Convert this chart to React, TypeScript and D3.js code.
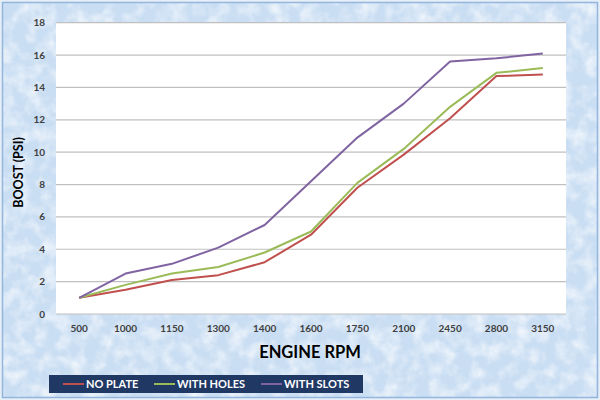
import * as d3 from 'd3';
import { useEffect, useRef } from 'react';

const rpm = ['500', '1000', '1150', '1300', '1400', '1600', '1750', '2100', '2450', '2800', '3150'];
const noPlate = [1, 1.5, 2.1, 2.4, 3.2, 4.9, 7.8, 9.85, 12.1, 14.7, 14.8];
const withHoles = [1, 1.8, 2.5, 2.9, 3.8, 5.1, 8.1, 10.2, 12.8, 14.9, 15.2];
const withSlots = [1, 2.5, 3.1, 4.1, 5.5, 8.2, 10.9, 13, 15.6, 15.8, 16.1];
const yTicks = [0, 2, 4, 6, 8, 10, 12, 14, 16, 18];

const series = [
  { name: 'NO PLATE', values: noPlate, color: '#c0504d' },
  { name: 'WITH HOLES', values: withHoles, color: '#9bbb59' },
  { name: 'WITH SLOTS', values: withSlots, color: '#8064a2' },
];

export default function App() {
  const ref = useRef<SVGSVGElement | null>(null);

  useEffect(() => {
    if (!ref.current) return;
    const W = 600;
    const H = 400;
    const plot = { left: 56, right: 566, top: 22.7, bottom: 314 };
    const font = 'Lato, "Open Sans", sans-serif';

    const svg = d3.select(ref.current).attr('width', W).attr('height', H);
    svg.selectAll('*').remove();

    // textured light blue background
    const defs = svg.append('defs');
    const f = defs.append('filter').attr('id', 'paper').attr('x', 0).attr('y', 0).attr('width', '100%').attr('height', '100%');
    f.append('feTurbulence').attr('type', 'fractalNoise').attr('baseFrequency', 0.07).attr('numOctaves', 3).attr('seed', 4).attr('result', 'n');
    f.append('feColorMatrix')
      .attr('in', 'n')
      .attr('type', 'matrix')
      .attr('values', '0 0 0 0 1  0 0 0 0 1  0 0 0 0 1  0 0 0 1.4 -0.55')
      .attr('result', 'a');
    f.append('feComposite').attr('in', 'a').attr('in2', 'SourceGraphic').attr('operator', 'in');

    svg.append('rect').attr('width', W).attr('height', H).attr('fill', '#e6eef8');
    svg.append('rect').attr('x', 2).attr('y', 2).attr('width', W - 4).attr('height', H - 4).attr('fill', '#cadef3');
    svg.append('rect').attr('x', 2).attr('y', 2).attr('width', W - 4).attr('height', H - 4).attr('fill', '#cadef3').attr('filter', 'url(#paper)');
    svg
      .append('rect')
      .attr('x', 2.5)
      .attr('y', 2.5)
      .attr('width', W - 5)
      .attr('height', H - 5)
      .attr('fill', 'none')
      .attr('stroke', '#94b6dc')
      .attr('stroke-width', 1.5);

    const x = d3.scaleBand().domain(rpm).range([plot.left, plot.right]);
    const y = d3.scaleLinear().domain([0, 18]).range([plot.bottom, plot.top]);

    svg
      .append('rect')
      .attr('x', plot.left)
      .attr('y', plot.top)
      .attr('width', plot.right - plot.left)
      .attr('height', plot.bottom - plot.top)
      .attr('fill', '#ffffff');

    // gridlines
    svg
      .append('g')
      .selectAll('line')
      .data(yTicks)
      .join('line')
      .attr('x1', plot.left)
      .attr('x2', plot.right)
      .attr('y1', (d) => y(d))
      .attr('y2', (d) => y(d))
      .attr('stroke', '#c0c0c0')
      .attr('stroke-width', 1.2);

    // y tick labels
    svg
      .append('g')
      .selectAll('text')
      .data(yTicks)
      .join('text')
      .attr('x', 45)
      .attr('y', (d) => y(d))
      .attr('dy', '0.35em')
      .attr('text-anchor', 'end')
      .attr('font-family', font)
      .attr('font-weight', 'bold')
      .attr('font-size', 10)
      .attr('fill', '#404040')
      .text((d) => d);

    // x tick labels
    svg
      .append('g')
      .selectAll('text')
      .data(rpm)
      .join('text')
      .attr('x', (d) => x(d)! + x.bandwidth() / 2)
      .attr('y', 328)
      .attr('dy', '0.35em')
      .attr('text-anchor', 'middle')
      .attr('font-family', font)
      .attr('font-weight', 'bold')
      .attr('font-size', 10)
      .attr('fill', '#404040')
      .text((d) => d);

    // axis titles
    svg
      .append('text')
      .attr('x', 310)
      .attr('y', 352)
      .attr('dy', '0.35em')
      .attr('text-anchor', 'middle')
      .attr('font-family', font)
      .attr('font-weight', 'bold')
      .attr('font-size', 16.5)
      .attr('fill', '#000')
      .text('ENGINE RPM');

    svg
      .append('text')
      .attr('transform', 'translate(19,172.5) rotate(-90)')
      .attr('dy', '0.35em')
      .attr('text-anchor', 'middle')
      .attr('font-family', font)
      .attr('font-weight', 'bold')
      .attr('font-size', 12.5)
      .attr('fill', '#000')
      .text('BOOST (PSI)');

    // lines
    const line = d3
      .line<number>()
      .x((_, i) => x(rpm[i])! + x.bandwidth() / 2)
      .y((d) => y(d));

    svg
      .append('g')
      .selectAll('path')
      .data(series)
      .join('path')
      .attr('d', (s) => line(s.values))
      .attr('fill', 'none')
      .attr('stroke', (s) => s.color)
      .attr('stroke-width', 2)
      .attr('stroke-linejoin', 'round');

    // legend
    const lg = svg.append('g');
    lg.append('rect').attr('x', 49).attr('y', 375).attr('width', 314).attr('height', 18).attr('fill', '#1f3864');
    const itemX = [63, 154, 261];
    series.forEach((s, i) => {
      lg.append('line')
        .attr('x1', itemX[i])
        .attr('x2', itemX[i] + 21)
        .attr('y1', 384)
        .attr('y2', 384)
        .attr('stroke', s.color)
        .attr('stroke-width', 2);
      lg.append('text')
        .attr('x', itemX[i] + 23)
        .attr('y', 384)
        .attr('dy', '0.36em')
        .attr('font-family', font)
        .attr('font-weight', 'bold')
        .attr('font-size', 11)
        .attr('fill', '#ffffff')
        .text(s.name);
    });
  }, []);

  return <svg ref={ref} style={{ position: 'absolute', left: 0, top: 0 }} />;
}
